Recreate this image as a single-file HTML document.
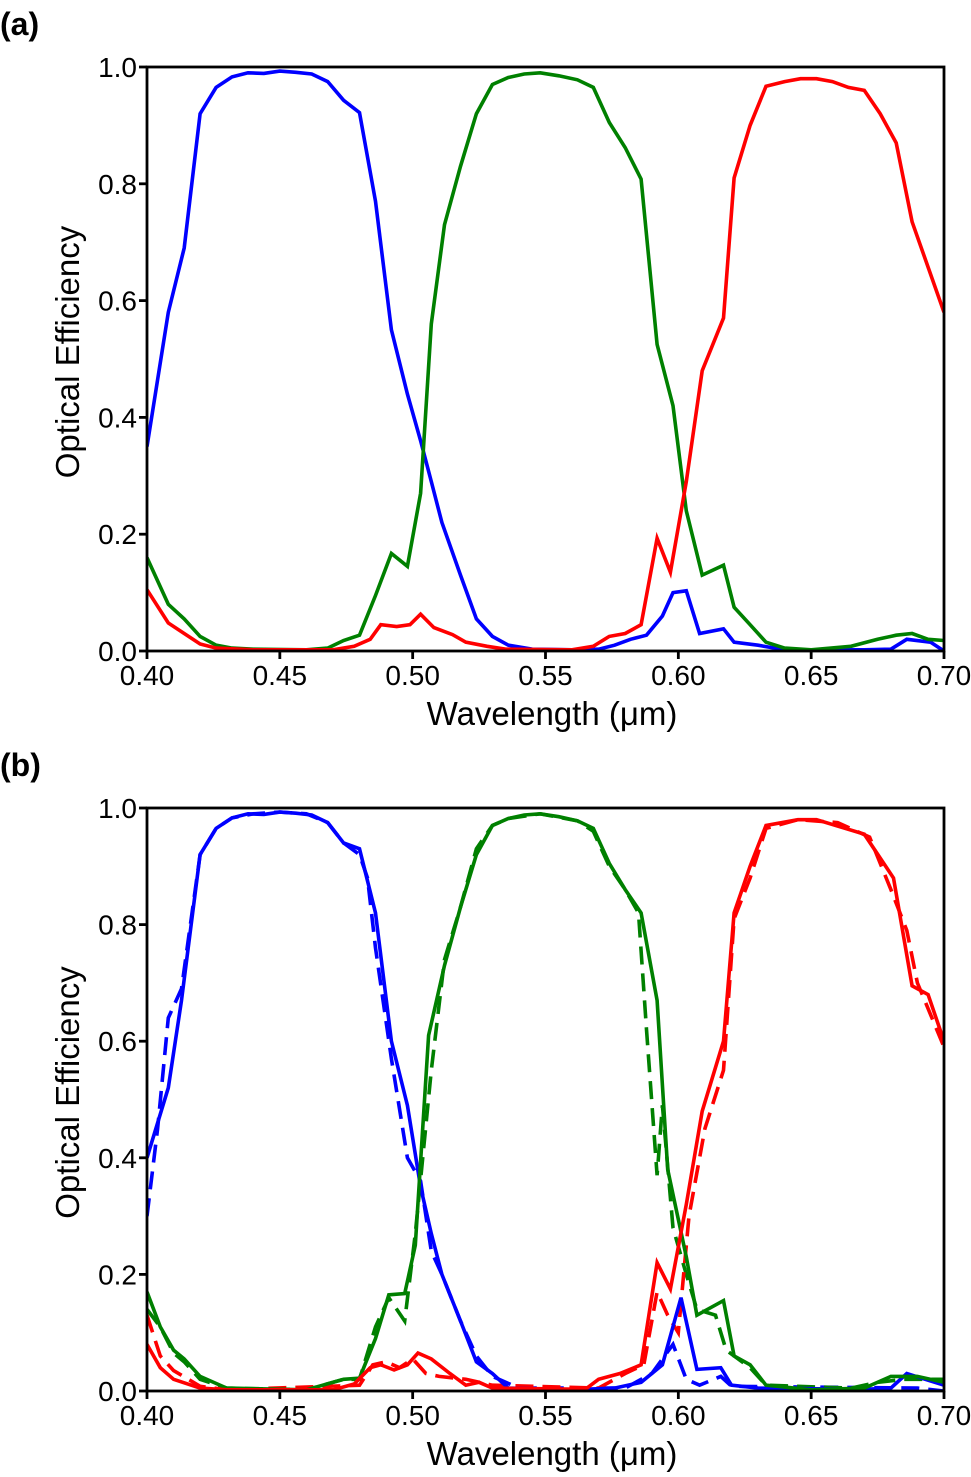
<!DOCTYPE html>
<html><head><meta charset="utf-8">
<style>
html,body{margin:0;padding:0;background:#fff;}
svg{display:block;font-family:"Liberation Sans",Arial,sans-serif;}
</style></head>
<body>
<svg id="chart" width="971" height="1477" viewBox="0 0 971 1477"></svg>
<script>
// Panel (a) data
const aBlueX=[0.400,0.408,0.414,0.420,0.426,0.432,0.438,0.444,0.450,0.456,0.462,0.468,0.474,0.480,0.486,0.492,0.498,0.503,0.507,0.511,0.518,0.524,0.530,0.536,0.545,0.560,0.570,0.576,0.582,0.588,0.594,0.598,0.603,0.608,0.617,0.621,0.630,0.640,0.670,0.680,0.686,0.695,0.700];
const aBlueY=[0.35,0.58,0.69,0.92,0.965,0.983,0.99,0.989,0.993,0.991,0.988,0.975,0.943,0.922,0.77,0.55,0.44,0.36,0.29,0.22,0.13,0.055,0.025,0.01,0.003,0.002,0.003,0.01,0.02,0.027,0.06,0.10,0.103,0.03,0.038,0.015,0.01,0.002,0.002,0.003,0.02,0.015,0.0];
const aGreenX=[0.400,0.408,0.414,0.420,0.426,0.432,0.440,0.460,0.468,0.474,0.480,0.486,0.492,0.498,0.503,0.507,0.512,0.518,0.524,0.530,0.536,0.542,0.548,0.555,0.562,0.568,0.574,0.580,0.586,0.592,0.598,0.603,0.609,0.617,0.621,0.627,0.633,0.640,0.650,0.665,0.675,0.682,0.688,0.694,0.700];
const aGreenY=[0.16,0.08,0.055,0.025,0.01,0.005,0.003,0.002,0.005,0.018,0.027,0.095,0.167,0.145,0.27,0.56,0.73,0.83,0.92,0.97,0.982,0.988,0.99,0.985,0.978,0.965,0.905,0.862,0.808,0.525,0.42,0.24,0.13,0.147,0.075,0.045,0.015,0.005,0.002,0.008,0.02,0.027,0.03,0.02,0.018];
const aRedX=[0.400,0.408,0.414,0.420,0.426,0.440,0.470,0.478,0.484,0.488,0.494,0.499,0.503,0.508,0.515,0.520,0.528,0.535,0.560,0.568,0.574,0.580,0.586,0.592,0.597,0.603,0.609,0.617,0.621,0.627,0.633,0.640,0.646,0.652,0.658,0.664,0.670,0.676,0.682,0.688,0.700];
const aRedY=[0.105,0.048,0.03,0.012,0.005,0.002,0.002,0.008,0.02,0.045,0.042,0.045,0.063,0.04,0.028,0.015,0.008,0.003,0.002,0.008,0.025,0.03,0.045,0.193,0.135,0.29,0.48,0.57,0.81,0.90,0.967,0.975,0.98,0.98,0.975,0.965,0.96,0.92,0.87,0.735,0.58];
// Panel (b) data
const bBlueX=[0.400,0.408,0.413,0.420,0.426,0.432,0.438,0.444,0.450,0.456,0.462,0.468,0.474,0.480,0.486,0.492,0.498,0.503,0.507,0.511,0.518,0.524,0.530,0.536,0.560,0.576,0.586,0.594,0.601,0.607,0.616,0.620,0.630,0.670,0.680,0.686,0.700];
const bBlueY=[0.40,0.52,0.67,0.92,0.965,0.983,0.99,0.989,0.993,0.991,0.988,0.975,0.94,0.93,0.82,0.60,0.49,0.35,0.27,0.20,0.12,0.05,0.03,0.005,0.002,0.005,0.015,0.045,0.16,0.037,0.04,0.01,0.005,0.003,0.005,0.03,0.01];
const bBlueDX=[0.400,0.404,0.408,0.413,0.420,0.426,0.432,0.440,0.450,0.460,0.468,0.474,0.480,0.483,0.486,0.492,0.498,0.503,0.507,0.511,0.518,0.524,0.530,0.540,0.580,0.590,0.598,0.603,0.608,0.616,0.620,0.690,0.700];
const bBlueDY=[0.30,0.45,0.64,0.69,0.92,0.965,0.983,0.99,0.993,0.99,0.975,0.94,0.92,0.88,0.76,0.57,0.40,0.36,0.24,0.20,0.12,0.06,0.025,0.005,0.005,0.03,0.08,0.02,0.01,0.025,0.008,0.005,0.0];
const bGreenX=[0.400,0.405,0.410,0.414,0.420,0.430,0.460,0.474,0.480,0.486,0.491,0.497,0.501,0.506,0.512,0.518,0.524,0.530,0.536,0.542,0.548,0.555,0.562,0.568,0.574,0.580,0.586,0.592,0.596,0.603,0.607,0.617,0.621,0.627,0.633,0.650,0.670,0.680,0.690,0.700];
const bGreenY=[0.17,0.11,0.07,0.055,0.025,0.005,0.002,0.02,0.022,0.09,0.165,0.167,0.25,0.61,0.73,0.83,0.92,0.97,0.982,0.988,0.99,0.985,0.978,0.965,0.905,0.86,0.82,0.67,0.38,0.23,0.13,0.155,0.06,0.045,0.01,0.002,0.005,0.025,0.025,0.015];
const bGreenDX=[0.400,0.405,0.410,0.414,0.420,0.430,0.460,0.474,0.480,0.486,0.491,0.497,0.501,0.507,0.512,0.518,0.524,0.530,0.536,0.548,0.562,0.568,0.574,0.580,0.585,0.588,0.592,0.594,0.598,0.603,0.607,0.614,0.618,0.627,0.633,0.665,0.675,0.685,0.700];
const bGreenDY=[0.14,0.11,0.065,0.05,0.02,0.005,0.002,0.02,0.02,0.11,0.16,0.12,0.27,0.55,0.74,0.83,0.93,0.97,0.982,0.99,0.978,0.96,0.9,0.86,0.82,0.62,0.37,0.49,0.28,0.20,0.14,0.13,0.07,0.04,0.01,0.005,0.015,0.02,0.02];
const bRedX=[0.400,0.405,0.410,0.420,0.430,0.470,0.478,0.484,0.488,0.493,0.498,0.502,0.507,0.514,0.520,0.525,0.530,0.565,0.570,0.578,0.586,0.592,0.597,0.603,0.609,0.617,0.621,0.627,0.633,0.645,0.652,0.670,0.681,0.688,0.694,0.700];
const bRedY=[0.08,0.04,0.02,0.005,0.002,0.002,0.012,0.04,0.045,0.036,0.045,0.065,0.055,0.03,0.01,0.015,0.005,0.003,0.02,0.03,0.045,0.22,0.175,0.32,0.48,0.60,0.82,0.90,0.97,0.98,0.98,0.955,0.88,0.695,0.68,0.60];
const bRedDX=[0.400,0.405,0.410,0.420,0.430,0.480,0.485,0.490,0.495,0.500,0.505,0.510,0.520,0.530,0.570,0.580,0.587,0.592,0.596,0.600,0.604,0.610,0.617,0.621,0.627,0.633,0.645,0.660,0.672,0.680,0.686,0.690,0.700];
const bRedDY=[0.13,0.06,0.035,0.008,0.002,0.01,0.045,0.05,0.04,0.055,0.03,0.025,0.02,0.01,0.005,0.03,0.045,0.17,0.13,0.10,0.30,0.45,0.55,0.81,0.88,0.965,0.98,0.975,0.95,0.86,0.79,0.70,0.59];

const xTicks=[0.40,0.45,0.50,0.55,0.60,0.65,0.70];
const xTickLabels=["0.40","0.45","0.50","0.55","0.60","0.65","0.70"];
const yTicks=[0,0.2,0.4,0.6,0.8,1.0];
const yTickLabels=["0.0","0.2","0.4","0.6","0.8","1.0"];

const NS="http://www.w3.org/2000/svg";
const svg=document.getElementById('chart');
const L=147,R=944;
function mk(tag,attrs,parent){const e=document.createElementNS(NS,tag);for(const k in attrs)e.setAttribute(k,attrs[k]);(parent||svg).appendChild(e);return e;}
function xs(v){return L+(v-0.4)/0.3*(R-L);}

function panel(label,top,bottom,series,key){
  const g=mk('g',{});
  
  
  const ys=v=>bottom-v*(bottom-top);
  const t=mk('text',{x:0,y:top-32,'font-size':32,'font-weight':'bold'},g);t.textContent=label;
  
  
  const clipId='clip'+key;
  const cp=mk('clipPath',{id:clipId},g);mk('rect',{x:L,y:top-4,width:R-L,height:bottom-top+4},cp);
  const sg=mk('g',{'clip-path':'url(#'+clipId+')'},g);
  series.forEach(s=>{
    const d=s.x.map((v,i)=>(i?'L':'M')+xs(v).toFixed(1)+','+ys(s.y[i]).toFixed(1)).join('');
    const p=mk('path',{d:d,fill:'none',stroke:s.c,'stroke-width':3.6,'stroke-linejoin':'miter'},sg);
    if(s.dash)p.setAttribute('stroke-dasharray','18,9');
    
    
  });
  const fr=mk('rect',{x:L,y:top,width:R-L,height:bottom-top,fill:'none',stroke:'#000','stroke-width':2.8},g);
  
  
  xTicks.forEach((v,i)=>{
    mk('line',{x1:xs(v),x2:xs(v),y1:bottom,y2:bottom+8,stroke:'#000','stroke-width':2.8},g);
    const tx=mk('text',{x:xs(v),y:bottom+34,'font-size':28,'text-anchor':'middle'},g);tx.textContent=xTickLabels[i];
    
    
  });
  yTicks.forEach((v,i)=>{
    mk('line',{x1:L-8,x2:L,y1:ys(v),y2:ys(v),stroke:'#000','stroke-width':2.8},g);
    const ty=mk('text',{x:L-10,y:ys(v)+10,'font-size':28,'text-anchor':'end'},g);ty.textContent=yTickLabels[i];
    
    
  });
  const xt=mk('text',{x:552,y:bottom+74,'font-size':33,'text-anchor':'middle'},g);
  xt.textContent='Wavelength (\u03bcm)';
  
  
  const yt=mk('text',{x:0,y:0,'font-size':33,'text-anchor':'middle',transform:'translate(79,'+((top+bottom)/2-7)+') rotate(-90)'},g);
  yt.textContent='Optical Efficiency';
  
  
}
panel('(a)',67,651,[
  {x:aBlueX,y:aBlueY,c:'#0000ff',name:'blue-series'},
  {x:aGreenX,y:aGreenY,c:'#008000',name:'green-series'},
  {x:aRedX,y:aRedY,c:'#ff0000',name:'red-series'}],'a');
panel('(b)',808,1391,[
  {x:bBlueDX,y:bBlueDY,c:'#0000ff',dash:true,name:'blue-dashed-series'},
  {x:bGreenDX,y:bGreenDY,c:'#008000',dash:true,name:'green-dashed-series'},
  {x:bRedDX,y:bRedDY,c:'#ff0000',dash:true,name:'red-dashed-series'},
  {x:bBlueX,y:bBlueY,c:'#0000ff',name:'blue-series'},
  {x:bGreenX,y:bGreenY,c:'#008000',name:'green-series'},
  {x:bRedX,y:bRedY,c:'#ff0000',name:'red-series'}],'b');
</script>
</body></html>
